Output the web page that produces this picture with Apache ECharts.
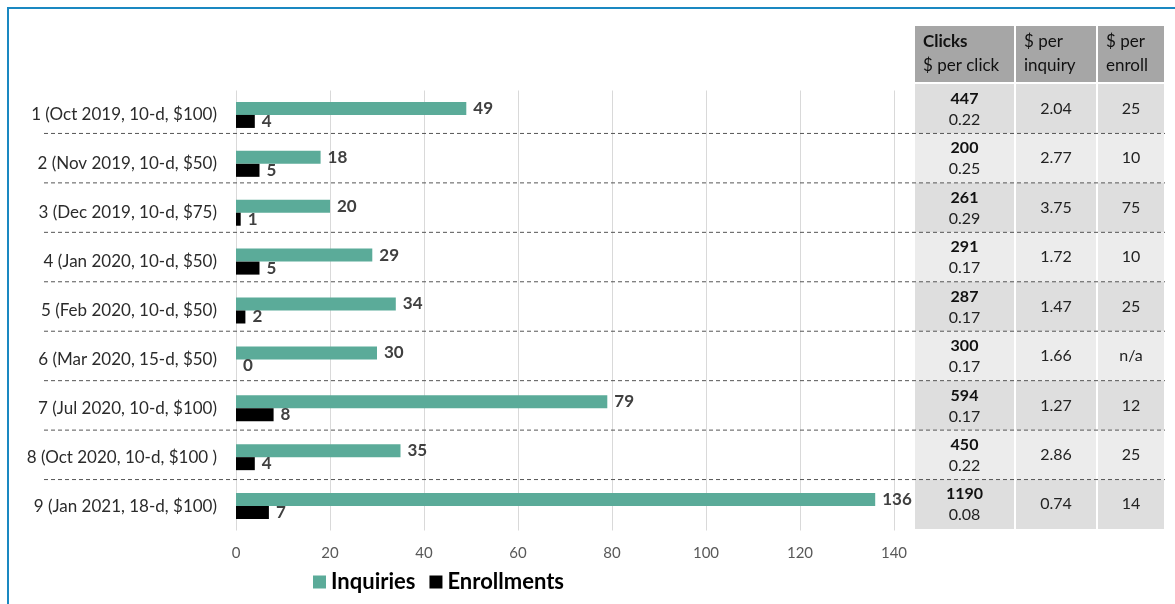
<!DOCTYPE html>
<html>
<head>
<meta charset="utf-8">
<style>
html,body{margin:0;padding:0;background:#fff;}
#chart{width:1175px;height:604px;}
</style>
<script src="https://cdn.jsdelivr.net/npm/echarts@6/dist/echarts.min.js"></script>
</head>
<body>
<div id="chart"></div>
<script>
// ---- data ----
var categories = [
  '1 (Oct 2019, 10-d, $100)',
  '2 (Nov 2019, 10-d, $50)',
  '3 (Dec 2019, 10-d, $75)',
  '4 (Jan 2020, 10-d, $50)',
  '5 (Feb 2020, 10-d, $50)',
  '6 (Mar 2020, 15-d, $50)',
  '7 (Jul 2020, 10-d, $100)',
  '8 (Oct 2020, 10-d, $100 )',
  '9 (Jan 2021, 18-d, $100)'
];
var inquiries   = [49, 18, 20, 29, 34, 30, 79, 35, 136];
var enrollments = [4, 5, 1, 5, 2, 0, 8, 4, 7];
var clicks      = ['447', '200', '261', '291', '287', '300', '594', '450', '1190'];
var perClick    = ['0.22', '0.25', '0.29', '0.17', '0.17', '0.17', '0.17', '0.22', '0.08'];
var perInquiry  = ['2.04', '2.77', '3.75', '1.72', '1.47', '1.66', '1.27', '2.86', '0.74'];
var perEnroll   = ['25', '10', '75', '10', '25', 'n/a', '12', '25', '14'];
var headerLine1 = ['Clicks', '$ per', '$ per'];
var headerLine2 = ['$ per click', 'inquiry', 'enroll'];
var xTicks = {min: 0, max: 140, interval: 20};

// ---- layout / style ----
var FONT = 'Lato, "Open Sans", sans-serif';
var TEAL = '#5bab99';
var colW = [99, 80, 66];
var colGap = 2;
var tableLeft = 915;
var headerTop = 26, headerH = 56;

var chart = echarts.init(document.getElementById('chart'));

function colX(i) {
  var x = tableLeft;
  for (var k = 0; k < i; k++) x += colW[k] + colGap;
  return x;
}

var headerGraphics = [];
for (var c = 0; c < 3; c++) {
  headerGraphics.push({
    type: 'rect', silent: true,
    shape: {x: colX(c), y: headerTop, width: colW[c], height: headerH},
    style: {fill: '#a6a6a6'}
  });
  headerGraphics.push({
    type: 'text', silent: true, x: colX(c) + 8, y: headerTop + 16,
    style: {text: headerLine1[c], fill: '#111', font: (c === 0 ? 'bold ' : '') + '17px ' + FONT, verticalAlign: 'middle'}
  });
  headerGraphics.push({
    type: 'text', silent: true, x: colX(c) + 8, y: headerTop + 40,
    style: {text: headerLine2[c], fill: '#111', font: '17px ' + FONT, verticalAlign: 'middle'}
  });
}
headerGraphics.push({
  type: 'rect', silent: true, z: 100,
  shape: {x: 8, y: 8, width: 1300, height: 800},
  style: {fill: 'none', stroke: '#1a88c1', lineWidth: 2}
});

var labelStyle = {show: true, position: 'right', distance: 7, fontFamily: FONT, fontWeight: 'bold', fontSize: 17, color: '#404040'};

var option = {
  animation: false,
  backgroundColor: '#fff',
  graphic: headerGraphics,
  legend: {
    left: 308, top: 566,
    itemWidth: 13, itemHeight: 13, itemGap: 14,
    icon: 'rect',
    textStyle: {fontFamily: FONT, fontSize: 22, fontWeight: 'bold', color: '#000'},
    data: ['Inquiries', 'Enrollments']
  },
  grid: [
    {left: 236, width: 658, top: 90.5, height: 440},
    {left: tableLeft, width: 247, top: 84, height: 445}
  ],
  xAxis: [
    {
      gridIndex: 0, type: 'value', min: xTicks.min, max: xTicks.max, interval: xTicks.interval,
      axisLine: {show: false}, axisTick: {show: false},
      axisLabel: {fontFamily: FONT, fontSize: 15, color: '#595959', margin: 15},
      splitLine: {lineStyle: {color: '#d9d9d9', width: 1}}
    },
    {gridIndex: 1, type: 'value', min: 0, max: 1, show: false}
  ],
  yAxis: [
    {
      gridIndex: 0, type: 'category', data: categories, inverse: true,
      axisLine: {show: false}, axisTick: {show: false},
      axisLabel: {fontFamily: FONT, fontSize: 17, color: '#2b2b2b', margin: 19},
      splitLine: {show: false}
    },
    {gridIndex: 1, type: 'category', data: categories, inverse: true, show: false}
  ],
  series: [
    {
      name: 'Inquiries', type: 'bar', xAxisIndex: 0, yAxisIndex: 0,
      data: inquiries, barWidth: 13, barGap: '0%',
      itemStyle: {color: TEAL}, label: labelStyle
    },
    {
      name: 'Enrollments', type: 'bar', xAxisIndex: 0, yAxisIndex: 0,
      data: enrollments, barWidth: 13, barGap: '0%',
      itemStyle: {color: '#000'}, label: labelStyle
    },
    {
      name: 'table', type: 'custom', xAxisIndex: 1, yAxisIndex: 1,
      clip: false, silent: true,
      data: categories.map(function (c, i) { return [0, i]; }),
      encode: {x: 0, y: 1},
      renderItem: function (params, api) {
        var i = params.dataIndex;
        var yc = api.coord([0, i])[1];
        var h = api.size([0, 1])[1];
        var top = yc - h / 2;
        var fill = (i % 2 === 0) ? '#dedede' : '#ececec';
        var children = [];
        for (var c = 0; c < 3; c++) {
          children.push({
            type: 'rect',
            shape: {x: colX(c), y: top, width: colW[c], height: h},
            style: {fill: fill}
          });
        }
        var cx0 = colX(0) + colW[0] / 2;
        children.push({type: 'text', x: cx0, y: yc - 10,
          style: {text: clicks[i], fill: '#111', font: 'bold 16px ' + FONT, align: 'center', verticalAlign: 'middle'}});
        children.push({type: 'text', x: cx0, y: yc + 11,
          style: {text: perClick[i], fill: '#222', font: '16px ' + FONT, align: 'center', verticalAlign: 'middle'}});
        children.push({type: 'text', x: colX(1) + colW[1] / 2, y: yc,
          style: {text: perInquiry[i], fill: '#222', font: '16px ' + FONT, align: 'center', verticalAlign: 'middle'}});
        children.push({type: 'text', x: colX(2) + colW[2] / 2, y: yc,
          style: {text: perEnroll[i], fill: '#222', font: '16px ' + FONT, align: 'center', verticalAlign: 'middle'}});
        if (i < categories.length - 1) {
          children.push({
            type: 'line', z2: 10,
            shape: {x1: 44, y1: top + h, x2: 1165, y2: top + h},
            style: {stroke: '#555', lineWidth: 1, lineDash: [4, 3]}
          });
        }
        return {type: 'group', children: children};
      }
    }
  ]
};
chart.setOption(option);
</script>
</body>
</html>
